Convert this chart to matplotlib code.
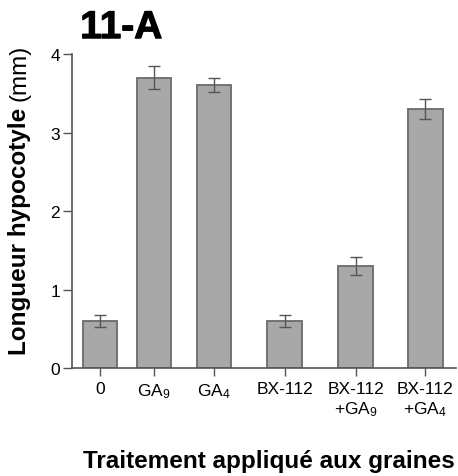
import matplotlib
matplotlib.use("Agg")
import matplotlib.pyplot as plt
import matplotlib.patheffects as pe

categories = ["0", "GA$_9$", "GA$_4$", "BX-112", "BX-112\n+GA$_9$", "BX-112\n+GA$_4$"]
values = [0.60, 3.70, 3.61, 0.60, 1.30, 3.30]
errors = [0.08, 0.15, 0.09, 0.08, 0.11, 0.13]
positions = [0.0, 0.77, 1.62, 2.62, 3.63, 4.62]
yticks = [0, 1, 2, 3, 4]

plt.rcParams['font.family'] = ['Liberation Sans', 'DejaVu Sans']
plt.rcParams['mathtext.fontset'] = 'custom'
plt.rcParams['mathtext.rm'] = 'Liberation Sans'
plt.rcParams['mathtext.it'] = 'Liberation Sans'
plt.rcParams['mathtext.bf'] = 'Liberation Sans:bold'
plt.rcParams['xtick.labelsize'] = 12.5
plt.rcParams['ytick.labelsize'] = 12.5

fig = plt.figure(figsize=(4.58, 4.77), dpi=100)
ax = fig.add_axes([0.1566, 0.2264, 0.995 - 0.1566, 0.6583])

ax.bar(positions, values, width=0.49, color="#a8a8a8", edgecolor="#6a6a6a", linewidth=1.3, zorder=2)
ax.errorbar(positions, values, yerr=errors, fmt="none", ecolor="#555555", elinewidth=1.0,
            capsize=4.5, capthick=1.0, zorder=3)

ax.set_xlim(-0.40, 5.05)
ax.set_ylim(0, 4)
for s in ["top", "right"]:
    ax.spines[s].set_visible(False)
for s in ["left", "bottom"]:
    ax.spines[s].set_color("#555555")
    ax.spines[s].set_linewidth(1.2)
ax.tick_params(axis="y", direction="out", length=6.5, width=1.0, color="#555555", pad=2)
ax.tick_params(axis="x", direction="out", length=6, width=1.0, color="#555555", pad=3.5)
ax.set_yticks(yticks)
ax.set_yticklabels([str(t) for t in yticks], fontsize=12.5)
ax.set_xticks(positions)
ax.set_xticklabels(categories, linespacing=1.2, fontsize=12.5)

fig.text(0.175, 0.918, "11-A", fontsize=28, fontweight="bold",
         ha="left", va="baseline",
         path_effects=[pe.withStroke(linewidth=0.8, foreground="black")])

fig.text(0.587, 0.018, "Traitement appliqué aux graines", fontsize=17.5, fontweight="bold",
         ha="center", va="baseline")

t1 = fig.text(0.043, 0.256, "Longueur hypocotyle ", fontsize=17.5, fontweight="bold",
              rotation=90, ha="center", va="bottom")
fig.canvas.draw()
bb = t1.get_window_extent(fig.canvas.get_renderer())
top = bb.y1 / fig.bbox.height
fig.text(0.043, top, "(mm)", fontsize=17.5, rotation=90, ha="center", va="bottom")

fig.savefig("out.png", dpi=100)
